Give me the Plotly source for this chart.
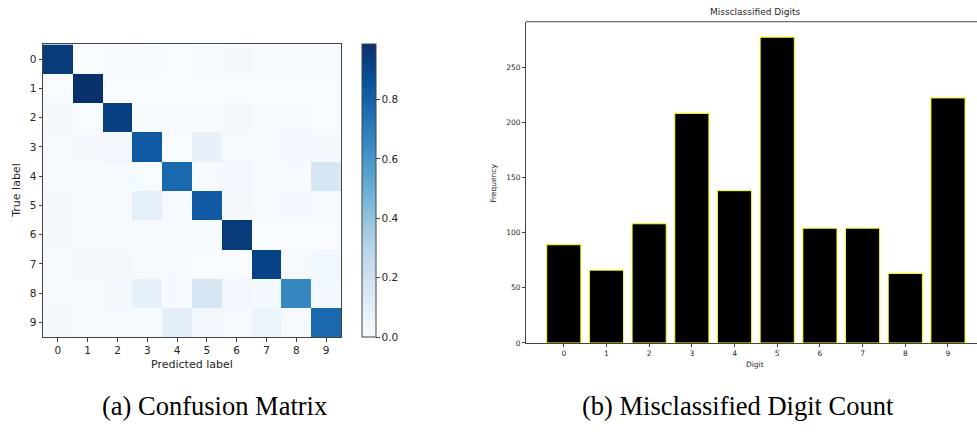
import plotly.graph_objects as go

# ---------------- data ----------------
digit_labels = ["0", "1", "2", "3", "4", "5", "6", "7", "8", "9"]
digits = [0, 1, 2, 3, 4, 5, 6, 7, 8, 9]

# normalized confusion matrix (rows = true label, cols = predicted label)
cm_row0 = [0.950, 0.002, 0.005, 0.008, 0.003, 0.010, 0.015, 0.004, 0.004, 0.004]
cm_row1 = [0.001, 0.987, 0.002, 0.002, 0.001, 0.001, 0.002, 0.002, 0.001, 0.001]
cm_row2 = [0.015, 0.003, 0.930, 0.008, 0.004, 0.006, 0.012, 0.010, 0.010, 0.003]
cm_row3 = [0.004, 0.012, 0.030, 0.830, 0.003, 0.075, 0.005, 0.008, 0.020, 0.013]
cm_row4 = [0.004, 0.008, 0.010, 0.003, 0.775, 0.005, 0.020, 0.007, 0.006, 0.160]
cm_row5 = [0.012, 0.005, 0.004, 0.090, 0.006, 0.830, 0.012, 0.005, 0.018, 0.010]
cm_row6 = [0.015, 0.004, 0.004, 0.005, 0.007, 0.010, 0.950, 0.002, 0.003, 0.001]
cm_row7 = [0.004, 0.012, 0.014, 0.006, 0.010, 0.003, 0.001, 0.920, 0.005, 0.035]
cm_row8 = [0.006, 0.008, 0.015, 0.080, 0.010, 0.165, 0.020, 0.015, 0.660, 0.020]
cm_row9 = [0.015, 0.010, 0.010, 0.008, 0.100, 0.020, 0.006, 0.050, 0.006, 0.775]
confusion = [cm_row0, cm_row1, cm_row2, cm_row3, cm_row4,
             cm_row5, cm_row6, cm_row7, cm_row8, cm_row9]

misclassified_counts = [89, 66, 108, 208, 138, 277, 104, 104, 63, 222]

colorbar_ticks = [0.0, 0.2, 0.4, 0.6, 0.8]
freq_ticks = [0, 50, 100, 150, 200, 250]

blues = [
    [0.0, "rgb(247,251,255)"], [0.125, "rgb(222,235,247)"],
    [0.25, "rgb(198,219,239)"], [0.375, "rgb(158,202,225)"],
    [0.5, "rgb(107,174,214)"], [0.625, "rgb(66,146,198)"],
    [0.75, "rgb(33,113,181)"], [0.875, "rgb(8,81,156)"],
    [1.0, "rgb(8,48,107)"],
]

W, H = 977, 433
def px(x):
    return x / W
def py(y):
    return 1 - y / H

TXT = "#262626"
AX = "#444444"

fig = go.Figure()

zmax = max(max(r) for r in confusion)

fig.add_trace(go.Heatmap(
    z=confusion, x=digits, y=digits,
    colorscale=blues, zmin=0, zmax=zmax,
    xaxis="x", yaxis="y",
    colorbar=dict(
        x=px(362), xanchor="left", xref="paper",
        y=py(341), yanchor="bottom", yref="paper",
        len=296 / H, lenmode="fraction",
        thickness=14, thicknessmode="pixels",
        xpad=0, ypad=0,
        outlinewidth=1, outlinecolor=AX,
        ticks="outside", ticklen=3.5, tickwidth=1, tickcolor=AX,
        tickvals=colorbar_ticks,
        ticktext=[f"{v:.1f}" for v in colorbar_ticks],
        tickfont=dict(family="DejaVu Sans", size=10.5, color=TXT),
    ),
    hoverinfo="skip",
))

fig.add_trace(go.Bar(
    x=digits, y=misclassified_counts, width=0.8,
    marker=dict(color="black", line=dict(color="#ffff00", width=1)),
    xaxis="x2", yaxis="y2",
))

fig.update_layout(
    width=W, height=H,
    margin=dict(l=0, r=0, t=0, b=0),
    paper_bgcolor="white", plot_bgcolor="white",
    showlegend=False,
    xaxis=dict(
        domain=[px(43), px(341)], anchor="y",
        range=[-0.5, 9.5],
        tickvals=digits, ticktext=digit_labels,
        ticks="outside", ticklen=3.5, tickwidth=1, tickcolor=AX,
        showline=True, linecolor=AX, linewidth=1, mirror=True,
        showgrid=False, zeroline=False,
        tickfont=dict(family="DejaVu Sans", size=10.5, color=TXT),
    ),
    yaxis=dict(
        domain=[py(341), py(45)], anchor="x",
        range=[9.5, -0.5],
        tickvals=digits, ticktext=digit_labels,
        ticks="outside", ticklen=3.5, tickwidth=1, tickcolor=AX,
        showline=True, linecolor=AX, linewidth=1, mirror=True,
        showgrid=False, zeroline=False,
        tickfont=dict(family="DejaVu Sans", size=10.5, color=TXT),
    ),
    xaxis2=dict(
        domain=[px(526), 1.0], anchor="y2",
        range=[-0.885, 9.68],
        tickvals=digits, ticktext=digit_labels,
        ticks="outside", ticklen=3, tickwidth=1, tickcolor=AX,
        showline=True, linecolor=AX, linewidth=1,
        showgrid=False, zeroline=False,
        tickfont=dict(family="DejaVu Sans", size=7.5, color=TXT),
    ),
    yaxis2=dict(
        domain=[py(347), py(22)], anchor="x2",
        range=[0, 291],
        tickvals=freq_ticks,
        ticks="outside", ticklen=3, tickwidth=1, tickcolor=AX,
        showline=True, linecolor=AX, linewidth=1,
        showgrid=False, zeroline=False,
        tickfont=dict(family="DejaVu Sans", size=7.5, color=TXT),
    ),
    shapes=[
        dict(type="line", xref="x2 domain", yref="y2 domain",
             x0=0, x1=1, y0=1, y1=1, line=dict(color=AX, width=1)),
    ],
)

ann = []
def label(text, x, y, size, family="DejaVu Sans", angle=0, color=TXT):
    ann.append(dict(text=text, x=px(x), y=py(y), xref="paper", yref="paper",
                    xanchor="center", yanchor="middle", showarrow=False,
                    textangle=angle, font=dict(family=family, size=size, color=color)))

label("True label", 17, 193, 11, angle=-90)
label("Predicted label", 192, 369, 11)
label("Missclassified Digits", 755, 12, 9)
label("Frequency", 494, 185, 7.5, angle=-90)
label("Digit", 755, 369, 7.5)
label("(a) Confusion Matrix", 214.5, 411, 26.5, family="Liberation Serif", color="black")
label("(b) Misclassified Digit Count", 738, 411, 26.5, family="Liberation Serif", color="black")

fig.update_layout(annotations=ann)

fig.write_html(
    "out.html",
    config={"displayModeBar": False},
    post_script="document.body.style.margin='0';document.body.style.overflow='hidden';",
)
